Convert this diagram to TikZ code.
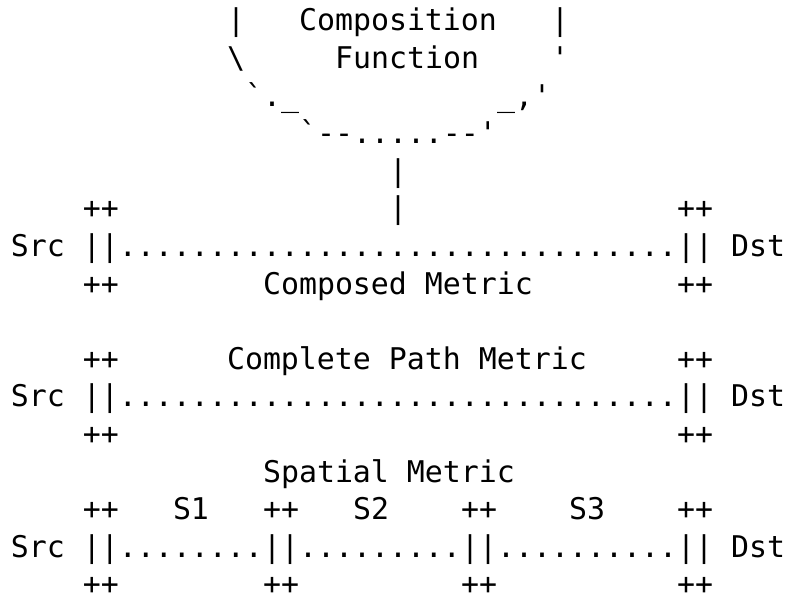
\documentclass[tikz,border=0pt]{standalone}
\usepackage{fontspec}
\setmonofont{DejaVu Sans Mono}
\usepackage{tikz}
\tikzset{ascii/.style={font=\ttfamily\fontsize{29.9pt}{36pt}\selectfont, inner sep=0pt, outer sep=0pt, text depth=0pt, anchor=base west}}
\newcommand{\glyphs}[4]{\node[ascii] (#1) at ( #2 , #3 ) {#4};}
\newcommand{\plusses}[3]{\glyphs{#1}{#2}{#3}{++}}
\newcommand{\bars}[3]{\glyphs{#1}{#2}{#3}{||}}

\begin{document}
\begin{tikzpicture}[x=18pt,y=-37.6pt]
        \useasboundingbox (-0.611,-0.824) rectangle (43.278,15.106);

        % composition function (lower half of the circle)
        \glyphs{cfL}{12}{0}{|}
        \glyphs{cfName}{16}{0}{Composition}
        \glyphs{cfR}{30}{0}{|}
        \glyphs{cfBsl}{12}{1}{\textbackslash}
        \glyphs{cfFun}{18}{1}{Function}
        \glyphs{cfTick}{30}{1}{'}
        \glyphs{cfArcL}{13}{2}{`.\_}
        \glyphs{cfArcR}{27}{2}{\_,'}
        \glyphs{cfBottom}{16}{3}{`--.....--'}
        \glyphs{cfLinkA}{21}{4}{|}

        % composed metric
        \plusses{cmTL}{4}{5}
        \glyphs{cfLinkB}{21}{5}{|}
        \plusses{cmTR}{37}{5}
        \glyphs{cmSrc}{0}{6}{Src}
        \bars{cmBL}{4}{6}
        \glyphs{cmPath}{6}{6}{...............................}
        \bars{cmBR}{37}{6}
        \glyphs{cmDst}{40}{6}{Dst}
        \plusses{cmBotL}{4}{7}
        \glyphs{cmLabel}{14}{7}{Composed Metric}
        \plusses{cmBotR}{37}{7}

        % complete path metric
        \plusses{pmTL}{4}{9}
        \glyphs{pmLabel}{12}{9}{Complete Path Metric}
        \plusses{pmTR}{37}{9}
        \glyphs{pmSrc}{0}{10}{Src}
        \bars{pmBL}{4}{10}
        \glyphs{pmPath}{6}{10}{...............................}
        \bars{pmBR}{37}{10}
        \glyphs{pmDst}{40}{10}{Dst}
        \plusses{pmBotL}{4}{11}
        \plusses{pmBotR}{37}{11}

        % spatial metric
        \glyphs{smLabel}{14}{12}{Spatial Metric}
        \plusses{smTA}{4}{13}
        \glyphs{smSa}{9}{13}{S1}
        \plusses{smTB}{14}{13}
        \glyphs{smSb}{19}{13}{S2}
        \plusses{smTC}{25}{13}
        \glyphs{smSc}{31}{13}{S3}
        \plusses{smTD}{37}{13}
        \glyphs{smSrc}{0}{14}{Src}
        \bars{smBA}{4}{14}
        \glyphs{smPa}{6}{14}{........}
        \bars{smBB}{14}{14}
        \glyphs{smPb}{16}{14}{.........}
        \bars{smBC}{25}{14}
        \glyphs{smPc}{27}{14}{..........}
        \bars{smBD}{37}{14}
        \glyphs{smDst}{40}{14}{Dst}
        \plusses{smBotA}{4}{15}
        \plusses{smBotB}{14}{15}
        \plusses{smBotC}{25}{15}
        \plusses{smBotD}{37}{15}
    \end{tikzpicture}
\end{document}
